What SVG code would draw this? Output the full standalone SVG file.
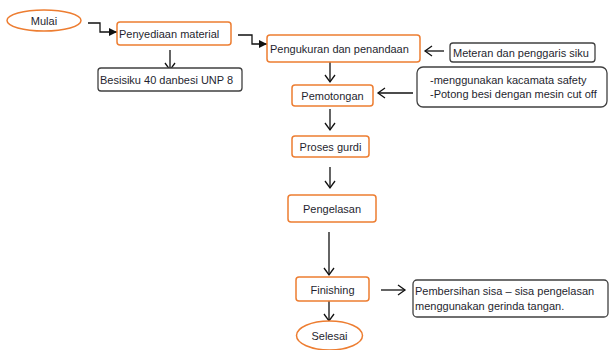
<svg xmlns="http://www.w3.org/2000/svg" width="609" height="350" viewBox="0 0 609 350">
<defs>
<style>
.o{fill:#fff;stroke:#ED7D31;stroke-width:1.5}
.g{fill:#fff;stroke:#404040;stroke-width:1.3}
text{font-family:"Liberation Sans",Arial,sans-serif;font-size:11px;fill:#1f1f2f}
.c{text-anchor:middle}
.ln{fill:none;stroke:#111;stroke-width:1.3}
</style>
<marker id="op" markerWidth="12" markerHeight="12" refX="9" refY="6" orient="auto" markerUnits="userSpaceOnUse">
<path d="M2,1 L9,6 L2,11" fill="none" stroke="#111" stroke-width="1.3"/>
</marker>
<marker id="fl" markerWidth="10" markerHeight="10" refX="8" refY="5" orient="auto" markerUnits="userSpaceOnUse">
<path d="M0,1 L8,5 L0,9 Z" fill="#111"/>
</marker>
</defs>
<rect width="609" height="350" fill="#fff"/>
<g id="connectors">
<path class="ln" d="M88,23 H100 V32 H117" marker-end="url(#fl)"/>
<path class="ln" d="M238,35 H252 V44 H267" marker-end="url(#fl)"/>
<path class="ln" d="M170,50 V70" marker-end="url(#op)"/>
<path class="ln" d="M444,51 H425" marker-end="url(#op)"/>
<path class="ln" d="M330,62 V82" marker-end="url(#op)"/>
<path class="ln" d="M413,93 H378" marker-end="url(#op)"/>
<path class="ln" d="M330,109 V130" marker-end="url(#op)"/>
<path class="ln" d="M330,167 V188" marker-end="url(#op)"/>
<path class="ln" d="M329,232 V275" marker-end="url(#op)"/>
<path class="ln" d="M329,301 V321" marker-end="url(#op)"/>
<path class="ln" d="M381,290 H405" marker-end="url(#op)"/>
</g>
<g id="mulai"><ellipse class="o" cx="44" cy="20.5" rx="37" ry="10.5"/><text class="c" x="44" y="24.5">Mulai</text></g>
<g id="penyediaan"><rect class="o" x="117" y="22" width="114" height="23" rx="3"/><text x="119" y="37.5">Penyediaan material</text></g>
<g id="besisiku"><rect class="g" x="98" y="68" width="144" height="23" rx="3"/><text x="100" y="83.5">Besisiku 40 danbesi UNP 8</text></g>
<g id="pengukuran"><rect class="o" x="267" y="35" width="153" height="27" rx="3"/><text x="270" y="53">Pengukuran dan penandaan</text></g>
<g id="meteran"><rect class="g" x="450" y="43" width="145" height="19" rx="3"/><text x="453" y="56.5">Meteran dan penggaris siku</text></g>
<g id="pemotongan"><rect class="o" x="292" y="85" width="81" height="21" rx="3"/><text class="c" x="332.5" y="99.5">Pemotongan</text></g>
<g id="catatan"><rect class="g" x="417" y="67" width="190" height="40" rx="6"/><text x="430" y="84">-menggunakan kacamata safety</text><text x="430" y="98">-Potong besi dengan mesin cut off</text></g>
<g id="proses"><rect class="o" x="292" y="136" width="77" height="21" rx="3"/><text class="c" x="330.5" y="150.5">Proses gurdi</text></g>
<g id="pengelasan"><rect class="o" x="288" y="195" width="88" height="27" rx="3"/><text class="c" x="332" y="212.5">Pengelasan</text></g>
<g id="finishing"><rect class="o" x="296" y="277" width="73" height="24" rx="3"/><text class="c" x="332.5" y="293.5">Finishing</text></g>
<g id="pembersihan"><rect class="g" x="413" y="280" width="195" height="37" rx="4"/><text x="415" y="294.5">Pembersihan sisa – sisa pengelasan</text><text x="415" y="309.5">menggunakan gerinda tangan.</text></g>
<g id="selesai"><ellipse class="o" cx="329.5" cy="335.5" rx="33" ry="14.5"/><text class="c" x="329.5" y="339.5">Selesai</text></g>
</svg>
